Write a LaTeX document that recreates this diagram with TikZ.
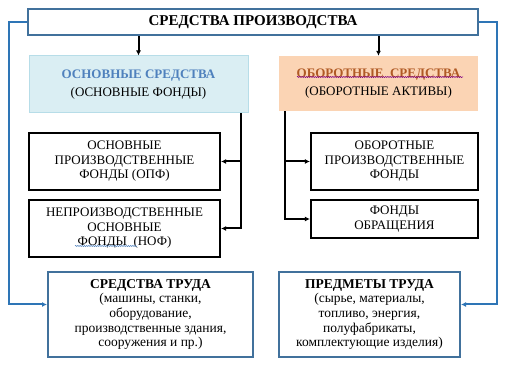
\documentclass[tikz,border=0pt]{standalone}
\usepackage{fontspec}
\setmainfont{Liberation Serif}
\usetikzlibrary{arrows.meta,decorations.pathmorphing}
\definecolor{lineblue}{HTML}{2E75B6}
\definecolor{frameblue}{HTML}{41719C}
\definecolor{paleblue}{HTML}{DAEEF3}
\definecolor{paleedge}{HTML}{B7DDE8}
\definecolor{peach}{HTML}{FBD4B4}
\definecolor{headblue}{HTML}{4F81BD}
\definecolor{headbrown}{HTML}{B05A25}
\begin{document}
\begin{tikzpicture}[x=1pt,y=-1pt,
    txt/.style={align=center, inner sep=0pt, font=\fontsize{13}{14.5}\selectfont},
    blackbox/.style={txt, draw=black, line width=2.2pt},
    bluebox/.style={txt, draw=frameblue, line width=2pt},
    blackarr/.style={line width=2pt, -{Latex[length=5pt,width=5pt]}},
    bluearr/.style={draw=lineblue, line width=2pt, -{Latex[length=5pt,width=5pt]}},
    wavy/.style={decorate, decoration={snake, amplitude=0.6pt, segment length=2.2pt}, line width=0.5pt}]
  \useasboundingbox (0,0) rectangle (507,371);
  % Top
  \node[bluebox, minimum width=450, minimum height=26,
        font=\fontsize{15}{16}\selectfont\bfseries] (top) at (253,22) {СРЕДСТВА ПРОИЗВОДСТВА};
  % Two kinds of means
  \node[txt, fill=paleblue, draw=paleedge, line width=1pt,
        minimum width=219, minimum height=57] (osn) at (138.5,84.5)
        {\textcolor{headblue}{\bfseries ОСНОВНЫЕ СРЕДСТВА}\\[4pt](ОСНОВНЫЕ ФОНДЫ)};
  \node[txt, fill=peach, minimum width=199, minimum height=55] (obor) at (378.5,83.5)
        {\textcolor{headbrown}{\bfseries ОБОРОТНЫЕ\ \ СРЕДСТВА}\\[4pt](ОБОРОТНЫЕ АКТИВЫ)};
  % Funds
  \node[blackbox, minimum width=191, minimum height=57] (opf) at (124.5,161.5)
        {ОСНОВНЫЕ\\ПРОИЗВОДСТВЕННЫЕ\\ФОНДЫ (ОПФ)};
  \node[blackbox, minimum width=191, minimum height=57] (nof) at (124.5,228.5)
        {НЕПРОИЗВОДСТВЕННЫЕ\\ОСНОВНЫЕ\\ФОНДЫ\ \ (НОФ)};
  \node[blackbox, minimum width=167, minimum height=57] (obf) at (394.5,161.5)
        {ОБОРОТНЫЕ\\ПРОИЗВОДСТВЕННЫЕ\\ФОНДЫ};
  \node[blackbox, minimum width=167, minimum height=38] (fo) at (394.5,219)
        {ФОНДЫ\\ОБРАЩЕНИЯ};
  % Labour
  \node[bluebox, minimum width=205, minimum height=85, font=\fontsize{13.5}{14.7}\selectfont] (sredtr) at (150.5,314.5)
        {{\bfseries СРЕДСТВА ТРУДА}\\(машины, станки,\\оборудование,\\производственные здания,\\сооружения и пр.)};
  \node[bluebox, minimum width=181, minimum height=85, font=\fontsize{13.5}{14.7}\selectfont] (predtr) at (369.5,314.5)
        {{\bfseries ПРЕДМЕТЫ ТРУДА}\\(сырье, материалы,\\топливо, энергия,\\полуфабрикаты,\\комплектующие изделия)};
  % Arrows from the top
  \draw[blackarr] (top.south -| osn.north) -- (osn.north);
  \draw[blackarr] (top.south -| obor.north) -- (obor.north);
  % Left spine
  \coordinate (lsp) at ([xshift=-8pt]osn.south east);
  \draw[blackarr] (lsp) |- (nof.east);
  \draw[blackarr] (opf.east -| lsp) -- (opf.east);
  % Right spine
  \coordinate (rsp) at ([xshift=6pt]obor.south west);
  \draw[blackarr] (rsp) |- (fo.west);
  \draw[blackarr] (obf.west -| rsp) -- (obf.west);
  % Blue side lines
  \draw[bluearr] (top.west) -- (9,22) |- ([yshift=10pt]sredtr.west);
  \draw[bluearr] (top.east) -- (497,22) |- ([yshift=10pt]predtr.east);
  % Spell-check marks
  \draw[wavy, violet] (297,77) -- (463,77);
  \draw[wavy, headblue] (75,246) -- (137,246);
\end{tikzpicture}
\end{document}
